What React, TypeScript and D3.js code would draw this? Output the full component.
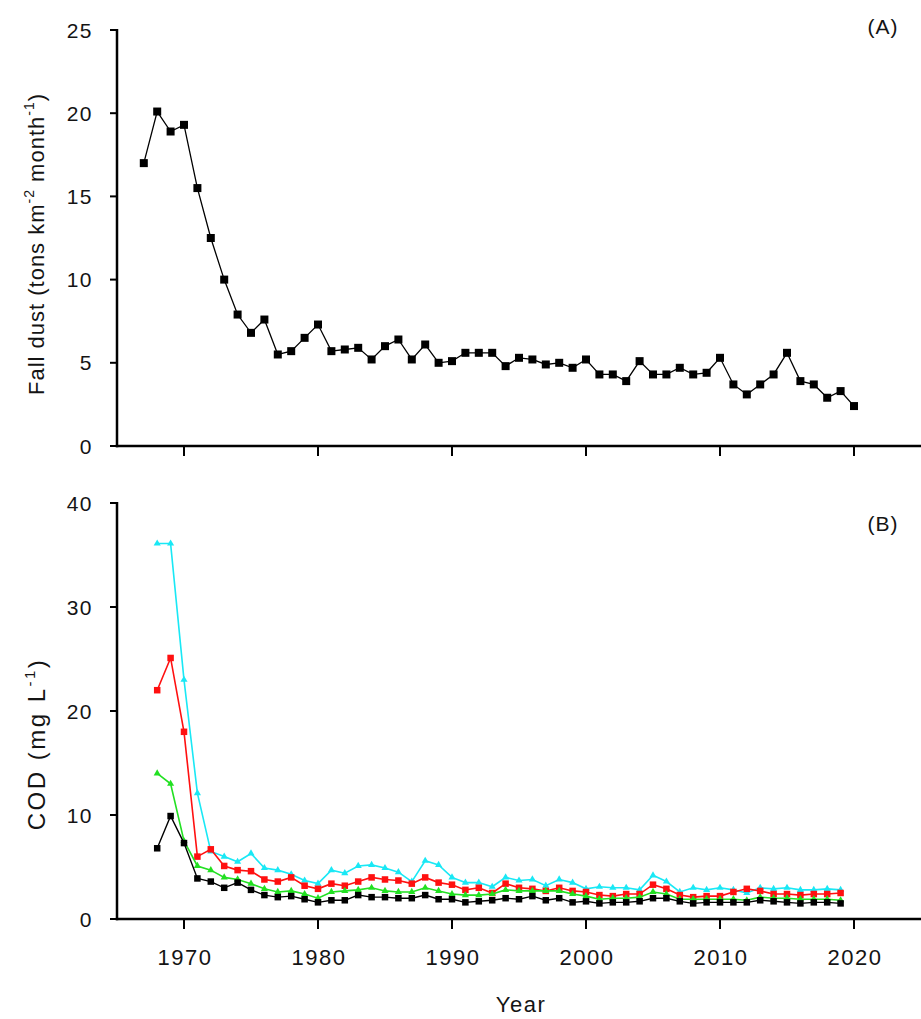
import { useEffect, useRef } from 'react'
import * as d3 from 'd3'

// Panel A: fall dust
const dustYears = [
  1967, 1968, 1969, 1970, 1971, 1972, 1973, 1974, 1975, 1976,
  1977, 1978, 1979, 1980, 1981, 1982, 1983, 1984, 1985, 1986,
  1987, 1988, 1989, 1990, 1991, 1992, 1993, 1994, 1995, 1996,
  1997, 1998, 1999, 2000, 2001, 2002, 2003, 2004, 2005, 2006,
  2007, 2008, 2009, 2010, 2011, 2012, 2013, 2014, 2015, 2016,
  2017, 2018, 2019, 2020,
]
const dustValues = [
  17.0, 20.1, 18.9, 19.3, 15.5, 12.5, 10.0, 7.9, 6.8, 7.6,
  5.5, 5.7, 6.5, 7.3, 5.7, 5.8, 5.9, 5.2, 6.0, 6.4,
  5.2, 6.1, 5.0, 5.1, 5.6, 5.6, 5.6, 4.8, 5.3, 5.2,
  4.9, 5.0, 4.7, 5.2, 4.3, 4.3, 3.9, 5.1, 4.3, 4.3,
  4.7, 4.3, 4.4, 5.3, 3.7, 3.1, 3.7, 4.3, 5.6, 3.9,
  3.7, 2.9, 3.3, 2.4,
]

// Panel B: COD
const codYears = [
  1968, 1969, 1970, 1971, 1972, 1973, 1974, 1975, 1976, 1977,
  1978, 1979, 1980, 1981, 1982, 1983, 1984, 1985, 1986, 1987,
  1988, 1989, 1990, 1991, 1992, 1993, 1994, 1995, 1996, 1997,
  1998, 1999, 2000, 2001, 2002, 2003, 2004, 2005, 2006, 2007,
  2008, 2009, 2010, 2011, 2012, 2013, 2014, 2015, 2016, 2017,
  2018, 2019,
]
const codCyan = [
  36.1, 36.1, 23.0, 12.1, 6.5, 6.0, 5.5, 6.3, 4.9, 4.7,
  4.3, 3.7, 3.4, 4.7, 4.4, 5.1, 5.2, 4.9, 4.5, 3.6,
  5.6, 5.2, 4.0, 3.5, 3.5, 3.1, 4.0, 3.7, 3.8, 3.2,
  3.8, 3.5, 2.9, 3.1, 3.0, 3.0, 2.8, 4.2, 3.6, 2.6,
  3.0, 2.8, 3.0, 2.8, 2.5, 3.0, 2.9, 3.0, 2.8, 2.8,
  2.9, 2.8,
]
const codRed = [
  22.0, 25.1, 18.0, 6.0, 6.7, 5.1, 4.7, 4.6, 3.8, 3.6,
  4.0, 3.2, 2.9, 3.4, 3.2, 3.6, 4.0, 3.8, 3.7, 3.4,
  4.0, 3.5, 3.3, 2.8, 3.0, 2.5, 3.4, 3.0, 2.9, 2.7,
  3.0, 2.7, 2.6, 2.3, 2.2, 2.4, 2.4, 3.3, 2.9, 2.3,
  2.1, 2.2, 2.2, 2.6, 2.9, 2.7, 2.4, 2.4, 2.3, 2.4,
  2.4, 2.5,
]
const codGreen = [
  14.0, 13.0, 7.5, 5.1, 4.7, 4.0, 3.8, 3.4, 2.9, 2.6,
  2.7, 2.4, 2.0, 2.6, 2.7, 2.8, 3.0, 2.7, 2.6, 2.6,
  3.0, 2.7, 2.4, 2.3, 2.3, 2.4, 2.8, 2.7, 2.7, 2.7,
  2.7, 2.4, 2.2, 1.9, 2.0, 2.0, 2.1, 2.6, 2.4, 1.9,
  1.9, 1.9, 1.9, 1.9, 1.8, 2.1, 2.0, 2.0, 1.9, 1.9,
  1.9, 1.8,
]
const codBlack = [
  6.8, 9.9, 7.3, 3.9, 3.6, 3.0, 3.5, 2.8, 2.3, 2.1,
  2.2, 1.9, 1.6, 1.8, 1.8, 2.3, 2.1, 2.1, 2.0, 2.0,
  2.3, 1.9, 1.9, 1.6, 1.7, 1.8, 2.0, 1.9, 2.2, 1.8,
  2.0, 1.6, 1.7, 1.5, 1.6, 1.6, 1.7, 2.0, 2.0, 1.7,
  1.5, 1.6, 1.6, 1.6, 1.6, 1.8, 1.7, 1.6, 1.5, 1.6,
  1.6, 1.5,
]

const yearTicks = [1970, 1980, 1990, 2000, 2010, 2020]
const dustTicks = [0, 5, 10, 15, 20, 25]
const codTicks = [0, 10, 20, 30, 40]

const FONT = '"Liberation Sans", Arial, sans-serif'
const TEXT = '#141414'

function App() {
  const svgRef = useRef(null)

  useEffect(() => {
    const width = 921
    const height = 1019
    const svg = d3.select(svgRef.current)
      .attr('width', width)
      .attr('height', height)
      .style('background', '#fff')

    const x = d3.scaleLinear().domain([1965, 2025]).range([117, 921])
    const yA = d3.scaleLinear().domain([0, 25]).range([446, 30])
    const yB = d3.scaleLinear().domain([0, 40]).range([919, 503])

    // ── axes for one panel ─────────────────────────────────────────
    function drawAxes(y, ticks, showYears) {
      const g = svg.append('g')
      const [y0, y1] = y.range()
      g.append('line')
        .attr('x1', x.range()[0]).attr('x2', x.range()[0])
        .attr('y1', y1 - 1).attr('y2', y0 + 1.25)
        .attr('stroke', '#000').attr('stroke-width', 2.5)
      g.append('line')
        .attr('x1', x.range()[0] - 1.25).attr('x2', x.range()[1])
        .attr('y1', y0).attr('y2', y0)
        .attr('stroke', '#000').attr('stroke-width', 2.5)

      g.selectAll('line.ytick').data(ticks).join('line')
        .attr('class', 'ytick')
        .attr('x1', x.range()[0] - 7).attr('x2', x.range()[0])
        .attr('y1', d => y(d)).attr('y2', d => y(d))
        .attr('stroke', '#000').attr('stroke-width', 2)
      g.selectAll('text.ylab').data(ticks).join('text')
        .attr('class', 'ylab')
        .attr('x', 93).attr('y', d => y(d) + 7.5)
        .attr('text-anchor', 'end')
        .attr('font-family', FONT).attr('font-size', 21)
        .attr('letter-spacing', 1.5)
        .attr('fill', TEXT)
        .text(d => d)

      g.selectAll('line.xtick').data(yearTicks).join('line')
        .attr('class', 'xtick')
        .attr('x1', d => x(d)).attr('x2', d => x(d))
        .attr('y1', y0).attr('y2', y0 + 10)
        .attr('stroke', '#000').attr('stroke-width', 2)
      if (showYears) {
        g.selectAll('text.xlab').data(yearTicks).join('text')
          .attr('class', 'xlab')
          .attr('x', d => x(d) + 1).attr('y', y0 + 46)
          .attr('text-anchor', 'middle')
          .attr('font-family', FONT).attr('font-size', 22)
          .attr('letter-spacing', 1.5)
          .attr('fill', TEXT)
          .text(d => d)
      }
    }

    function drawSeries(years, values, y, colour, marker, lw) {
      const g = svg.append('g')
      const pts = years.map((yr, i) => [x(yr), y(values[i])])
      g.append('path')
        .attr('d', d3.line()(pts))
        .attr('fill', 'none')
        .attr('stroke', colour)
        .attr('stroke-width', lw)
      if (marker.type === 'square') {
        g.selectAll('rect').data(pts).join('rect')
          .attr('x', d => d[0] - marker.size / 2)
          .attr('y', d => d[1] - marker.size / 2)
          .attr('width', marker.size).attr('height', marker.size)
          .attr('fill', colour)
      } else {
        const sym = d3.symbol(d3.symbolTriangle, marker.size)
        g.selectAll('path.m').data(pts).join('path')
          .attr('class', 'm')
          .attr('d', sym)
          .attr('transform', d => `translate(${d[0]},${d[1]})`)
          .attr('fill', colour)
      }
    }

    // ── Panel A ────────────────────────────────────────────────────
    drawAxes(yA, dustTicks, false)
    drawSeries(dustYears, dustValues, yA, '#000', { type: 'square', size: 8 }, 1.3)

    svg.append('text')
      .attr('x', 883).attr('y', 34)
      .attr('text-anchor', 'middle')
      .attr('font-family', FONT).attr('font-size', 21)
      .attr('letter-spacing', 1)
      .attr('fill', TEXT)
      .text('(A)')

    const tA = svg.append('text')
      .attr('transform', 'translate(44,244) rotate(-90)')
      .attr('text-anchor', 'middle')
      .attr('font-family', FONT).attr('font-size', 22)
      .attr('letter-spacing', 1)
      .attr('fill', TEXT)
    tA.append('tspan').text('Fall dust (tons km')
    tA.append('tspan').attr('dy', -10).attr('font-size', 14).text('-2')
    tA.append('tspan').attr('dy', 10).text(' month')
    tA.append('tspan').attr('dy', -10).attr('font-size', 14).text('-1')
    tA.append('tspan').attr('dy', 10).text(')')

    // ── Panel B ────────────────────────────────────────────────────
    drawAxes(yB, codTicks, true)
    drawSeries(codYears, codCyan, yB, '#19e8f5', { type: 'triangle', size: 22 }, 1.6)
    drawSeries(codYears, codRed, yB, '#ff1010', { type: 'square', size: 6.5 }, 1.6)
    drawSeries(codYears, codGreen, yB, '#22e022', { type: 'triangle', size: 22 }, 1.6)
    drawSeries(codYears, codBlack, yB, '#000', { type: 'square', size: 6.5 }, 1.4)

    svg.append('text')
      .attr('x', 883).attr('y', 531)
      .attr('text-anchor', 'middle')
      .attr('font-family', FONT).attr('font-size', 21)
      .attr('letter-spacing', 1)
      .attr('fill', TEXT)
      .text('(B)')

    const tB = svg.append('text')
      .attr('transform', 'translate(45,744) rotate(-90)')
      .attr('text-anchor', 'middle')
      .attr('font-family', FONT).attr('font-size', 24)
      .attr('letter-spacing', 2.5)
      .attr('fill', TEXT)
    tB.append('tspan').text('COD (mg L')
    tB.append('tspan').attr('dy', -10).attr('font-size', 15).text('-1')
    tB.append('tspan').attr('dy', 10).text(')')

    svg.append('text')
      .attr('x', 521).attr('y', 1012)
      .attr('text-anchor', 'middle')
      .attr('font-family', FONT).attr('font-size', 22)
      .attr('letter-spacing', 1.5)
      .attr('fill', TEXT)
      .text('Year')

    return () => {
      svg.selectAll('*').remove()
    }
  }, [])

  return (
    <svg
      ref={svgRef}
      style={{ position: 'absolute', left: 0, top: 0, display: 'block' }}
    />
  )
}

export default App
